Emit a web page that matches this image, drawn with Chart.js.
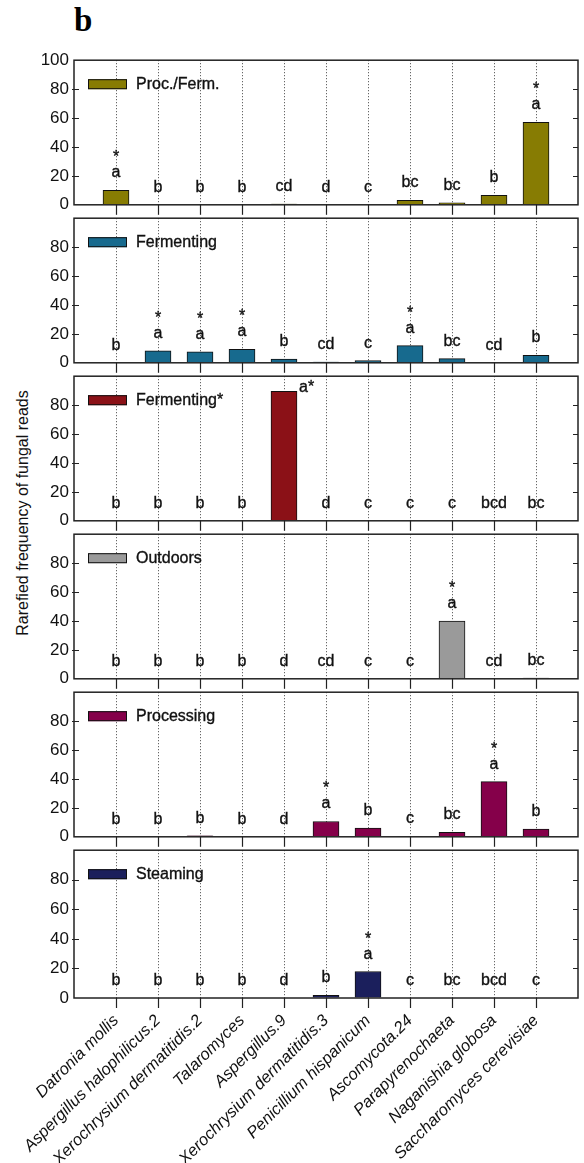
<!DOCTYPE html>
<html>
<head>
<meta charset="utf-8">
<script src="https://cdn.jsdelivr.net/npm/chart.js@4.4.1/dist/chart.umd.min.js"></script>
<style>
  body { margin: 0; background: #fff; }
  #wrap { position: relative; width: 584px; height: 1163px; overflow: hidden; background: #fff;
          font-family: "Liberation Sans", Arial, sans-serif; color: #111; }
  #wrap canvas { position: absolute; left: 0; }
  #panelTag { position: absolute; left: 74px; top: 0; font: bold 33px "Liberation Serif", "Times New Roman", serif; line-height: 40px; color: #000; }
  #ytitle { position: absolute; left: -127px; top: 503px; width: 300px; text-align: center; font-size: 16px; line-height: 20px;
            transform: rotate(-90deg); transform-origin: 150px 10px; color: #111; white-space: nowrap; }
</style>
</head>
<body>
<div id="wrap">
  <div id="panelTag">b</div>
  <div id="ytitle">Rarefied frequency of fungal reads</div>
</div>
<script>
// ---------------- data ----------------
const categories = [
  'Datronia mollis', 'Aspergillus halophilicus.2', 'Xerochrysium dermatitidis.2', 'Talaromyces',
  'Aspergillus.9', 'Xerochrysium dermatitidis.3', 'Penicillium hispanicum', 'Ascomycota.24',
  'Parapyrenochaeta', 'Naganishia globosa', 'Saccharomyces cerevisiae'
];
const groups = ['Proc./Ferm.', 'Fermenting', 'Fermenting*', 'Outdoors', 'Processing', 'Steaming'];
const groupColors = ['#877c03', '#176a8e', '#8b1117', '#9a9a9a', '#85004a', '#1b1f5c'];

const procFermValues     = [10, 0, 0, 0, 0.5, 0, 0, 3.1, 1.4, 6.6, 57];
const fermentingValues   = [0, 8.2, 7.6, 9.3, 2.6, 0.5, 1.5, 11.9, 2.9, 0, 5.1];
const fermentingStarValues = [0, 0, 0, 0, 89.5, 0, 0, 0, 0, 0, 0];
const outdoorsValues     = [0, 0, 0, 0, 0, 0, 0, 0, 40, 0, 0.5];
const processingValues   = [0, 0, 0.6, 0, 0, 10.6, 6, 0.4, 3.1, 38.2, 5.3];
const steamingValues     = [0, 0, 0, 0, 0, 1.8, 17.9, 0, 0, 0, 0];

const procFermLetters     = ['a*', 'b', 'b', 'b', 'cd', 'd', 'c', 'bc', 'bc', 'b', 'a*'];
const fermentingLetters   = ['b', 'a*', 'a*', 'a*', 'b', 'cd', 'c', 'a*', 'bc', 'cd', 'b'];
const fermentingStarLetters = ['b', 'b', 'b', 'b', 'a*', 'd', 'c', 'c', 'c', 'bcd', 'bc'];
const outdoorsLetters     = ['b', 'b', 'b', 'b', 'd', 'cd', 'c', 'c', 'a*', 'cd', 'bc'];
const processingLetters   = ['b', 'b', 'b', 'b', 'd', 'a*', 'b', 'c', 'bc', 'a*', 'b'];
const steamingLetters     = ['b', 'b', 'b', 'b', 'd', 'b', 'a*', 'c', 'bc', 'bcd', 'c'];

const yTickValues = [0, 20, 40, 60, 80, 100];

const panelValues  = [procFermValues, fermentingValues, fermentingStarValues, outdoorsValues, processingValues, steamingValues];
const panelLetters = [procFermLetters, fermentingLetters, fermentingStarLetters, outdoorsLetters, processingLetters, steamingLetters];

// ---------------- layout ----------------
const PANEL_H = 151;
const TOP_PAD = 12;
const panelTops = [57, 215, 373, 531, 689, 847];
const FONT = '"Liberation Sans", Arial, sans-serif';

function boldText(ctx, t, x, y) {
  ctx.fillText(t, x, y);
  ctx.lineWidth = 0.35;
  ctx.strokeStyle = ctx.fillStyle;
  ctx.strokeText(t, x, y);
}

const decorPlugin = {
  id: 'panelDecor',
  afterDatasetsDraw(chart) {
    const { ctx, chartArea: a, scales: { x, y } } = chart;
    const o = chart.options.plugins.panelDecor;
    ctx.save();
    // frame
    ctx.strokeStyle = '#222';
    ctx.lineWidth = 1.5;
    ctx.strokeRect(a.left, a.top, a.right - a.left, a.bottom - a.top);
    // y tick marks (inward on both sides)
    ctx.lineWidth = 1.2;
    yTickValues.forEach(v => {
      if (v <= 0 || v >= 100) return;
      const py = Math.round(y.getPixelForValue(v)) + 0.5;
      ctx.beginPath();
      ctx.moveTo(a.left - 2, py); ctx.lineTo(a.left + 5, py);
      ctx.moveTo(a.right, py); ctx.lineTo(a.right - 5, py);
      ctx.stroke();
    });
    // legend
    const ds = chart.data.datasets[0];
    const lx = a.left + 14, ly = a.top + 19;
    ctx.fillStyle = ds.backgroundColor;
    ctx.fillRect(lx, ly, 39, 10);
    ctx.strokeStyle = '#111';
    ctx.lineWidth = 1;
    ctx.strokeRect(lx + 0.5, ly + 0.5, 38, 9);
    ctx.fillStyle = '#111';
    ctx.font = '16px ' + FONT;
    ctx.textAlign = 'left';
    ctx.textBaseline = 'middle';
    boldText(ctx, ds.label, a.left + 62, a.top + 24);
    // significance letters
    ctx.textBaseline = 'alphabetic';
    const vals = o.values, letters = o.letters;
    vals.forEach((v, i) => {
      const lab = letters[i];
      const star = lab.endsWith('*');
      const txt = star ? lab.slice(0, -1) : lab;
      const px = x.getPixelForValue(i);
      const top = y.getPixelForValue(v);
      const base = top - 13;
      ctx.fillStyle = '#111';
      ctx.font = '16px ' + FONT;
      if (base - 14 < a.top) {
        ctx.textAlign = 'left';
        boldText(ctx, lab, px + 15, top + 1);
      } else {
        ctx.textAlign = 'center';
        boldText(ctx, txt, px, base);
        if (star) boldText(ctx, '*', px, base - 15);
      }
    });
    ctx.restore();
  }
};

const wrap = document.getElementById('wrap');

groups.forEach((g, p) => {
  const last = p === groups.length - 1;
  const cv = document.createElement('canvas');
  const cTop = panelTops[p] - TOP_PAD;
  const cH = last ? 1163 - cTop : TOP_PAD + PANEL_H + 12;
  cv.width = 584; cv.height = cH;
  cv.style.top = cTop + 'px';
  cv.style.width = '584px'; cv.style.height = cH + 'px';
  wrap.appendChild(cv);

  const xAxisH = cH - TOP_PAD - PANEL_H;

  new Chart(cv, {
    type: 'bar',
    data: {
      datasets: [{
        label: g,
        data: panelValues[p].map((v, i) => ({ x: i, y: v })),
        backgroundColor: groupColors[p],
        borderColor: '#111',
        borderWidth: 1,
        borderSkipped: 'bottom',
        barThickness: 26
      }]
    },
    options: {
      responsive: false,
      animation: false,
      devicePixelRatio: 1,
      layout: { padding: { top: TOP_PAD, right: 6, left: 0, bottom: 0 } },
      plugins: {
        legend: { display: false },
        tooltip: { enabled: false },
        panelDecor: { values: panelValues[p], letters: panelLetters[p] }
      },
      scales: {
        x: {
          type: 'linear',
          min: -1, max: 11,
          offset: false,
          afterFit: s => { s.height = xAxisH; s.paddingLeft = 0; s.paddingRight = 0; },
          afterBuildTicks: s => { s.ticks = [-1, 0, 1, 2, 3, 4, 5, 6, 7, 8, 9, 10, 11].map(v => ({ value: v })); },
          grid: {
            offset: false,
            drawOnChartArea: true,
            color: c => (c.tick && c.tick.value >= 0 && c.tick.value <= 10) ? '#444' : 'rgba(0,0,0,0)',
            tickColor: c => (c.tick && c.tick.value >= 0 && c.tick.value <= 10) ? '#222' : 'rgba(0,0,0,0)',
            lineWidth: 1,
            tickLength: 10,
            tickWidth: 1.2,
            tickBorderDash: []
          },
          border: { display: false, dash: [1, 2] },
          ticks: {
            display: last,
            autoSkip: false,
            maxRotation: 45,
            minRotation: 45,
            padding: 3,
            color: '#111',
            font: { family: FONT, size: 16.5, style: 'italic' },
            callback: v => (v >= 0 && v < categories.length) ? categories[v] : ''
          }
        },
        y: {
          min: 0, max: 100,
          afterFit: s => { s.width = 74; },
          afterBuildTicks: s => { s.ticks = yTickValues.map(v => ({ value: v })); },
          grid: { display: true, drawOnChartArea: false, drawTicks: false },
          border: { display: false },
          ticks: {
            padding: 5,
            color: '#111',
            font: { family: FONT, size: 17 },
            callback: v => (p > 0 && v === 100) ? '' : String(v)
          }
        }
      }
    },
    plugins: [decorPlugin]
  });
});
</script>
</body>
</html>
